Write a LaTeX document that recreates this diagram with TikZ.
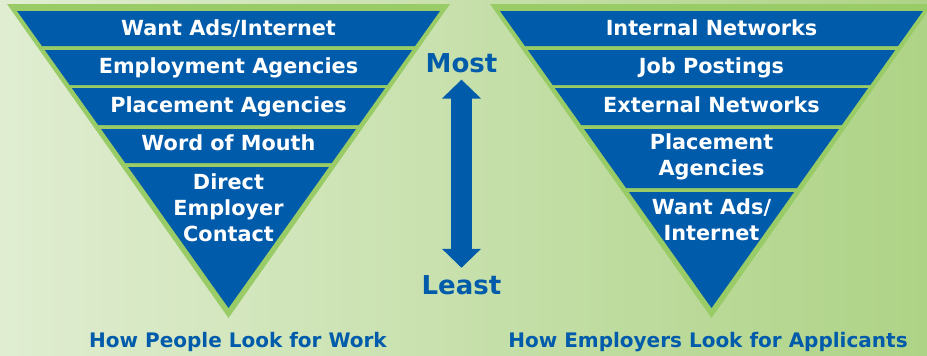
\documentclass[tikz,border=0pt]{standalone}
\usepackage{fontspec}
\setmainfont{DejaVu Sans}
\usetikzlibrary{arrows.meta,positioning}
\definecolor{bandblue}{RGB}{0,91,170}
\definecolor{rimgreen}{RGB}{153,204,102}
\definecolor{bgleft}{RGB}{224,237,209}
\definecolor{bgright}{RGB}{174,211,134}

\begin{document}
\begin{tikzpicture}[x=0.75pt,y=-0.75pt,
    band/.style = {fill=bandblue},
    rim/.style = {fill=rimgreen},
    bandtext/.style = {text=white, align=center, inner sep=0pt,
        font=\bfseries\fontsize{15.6}{19.5}\selectfont},
    funneltitle/.style = {text=bandblue, inner sep=0pt,
        font=\bfseries\fontsize{15}{17}\selectfont},
    rankword/.style = {text=bandblue, inner sep=0pt,
        font=\bfseries\fontsize{19.5}{22}\selectfont},
    updown/.style = {draw=bandblue, line width=15.75pt,
        {Triangle[length=14.25pt,width=28.5pt]}-{Triangle[length=14.25pt,width=28.5pt]}}]
\shade[left color=bgleft, right color=bgright] (0,0) rectangle (927,355);
\useasboundingbox (0,0) rectangle (927,355);
\clip (0,0) rectangle (927,355);

% job seekers
\begin{scope}[shift={(228.5,0)}]
\fill[rim] (-221.5,4) -- (221.5,4) -- (0,318) -- cycle;
\foreach \ya/\yb in {11/46, 50/85, 88/125, 129/163, 167/308}
    \fill[band] ({-0.712*(308-\ya)},\ya) -- ({0.712*(308-\ya)},\ya)
        -- ({0.712*(308-\yb)},\yb) -- ({-0.712*(308-\yb)},\yb) -- cycle;
\node[bandtext, anchor=base] (wantads) at (0,35) {Want Ads/Internet};
\node[bandtext, anchor=base] (employment) at (0,73) {Employment Agencies};
\node[bandtext, anchor=base] (placement) at (0,112) {Placement Agencies};
\node[bandtext, anchor=base] (mouth) at (0,150) {Word of Mouth};
\node[bandtext] (direct) at (0,208) {Direct\\Employer\\Contact};
\end{scope}
\node[funneltitle] (seekers) at (238,342) {How People Look for Work};

% employers
\begin{scope}[shift={(711.5,0)}]
\fill[rim] (-221.5,4) -- (221.5,4) -- (0,318) -- cycle;
\foreach \ya/\yb in {11/46, 50/85, 88/125, 129/188, 192/308}
    \fill[band] ({-0.712*(308-\ya)},\ya) -- ({0.712*(308-\ya)},\ya)
        -- ({0.712*(308-\yb)},\yb) -- ({-0.712*(308-\yb)},\yb) -- cycle;
\node[bandtext, anchor=base] (internal) at (0,35) {Internal Networks};
\node[bandtext, anchor=base] (postings) at (0,73) {Job Postings};
\node[bandtext, anchor=base] (external) at (0,112) {External Networks};
\node[bandtext] (agencies) at (0,157) {Placement\\Agencies};
\node[bandtext] (wantnet) at (0,220) {Want Ads/\\Internet};
\end{scope}
\node[funneltitle] (employers) at (708,342) {How Employers Look for Applicants};

% most to least
\node[rankword, anchor=base] (most) at (461.5,72) {Most};
\node[rankword, anchor=base] (least) at (461.5,294) {Least};
\draw[updown, shorten <=5.25pt, shorten >=5.25pt] (most.south) -- (least.north);
\end{tikzpicture}
\end{document}
